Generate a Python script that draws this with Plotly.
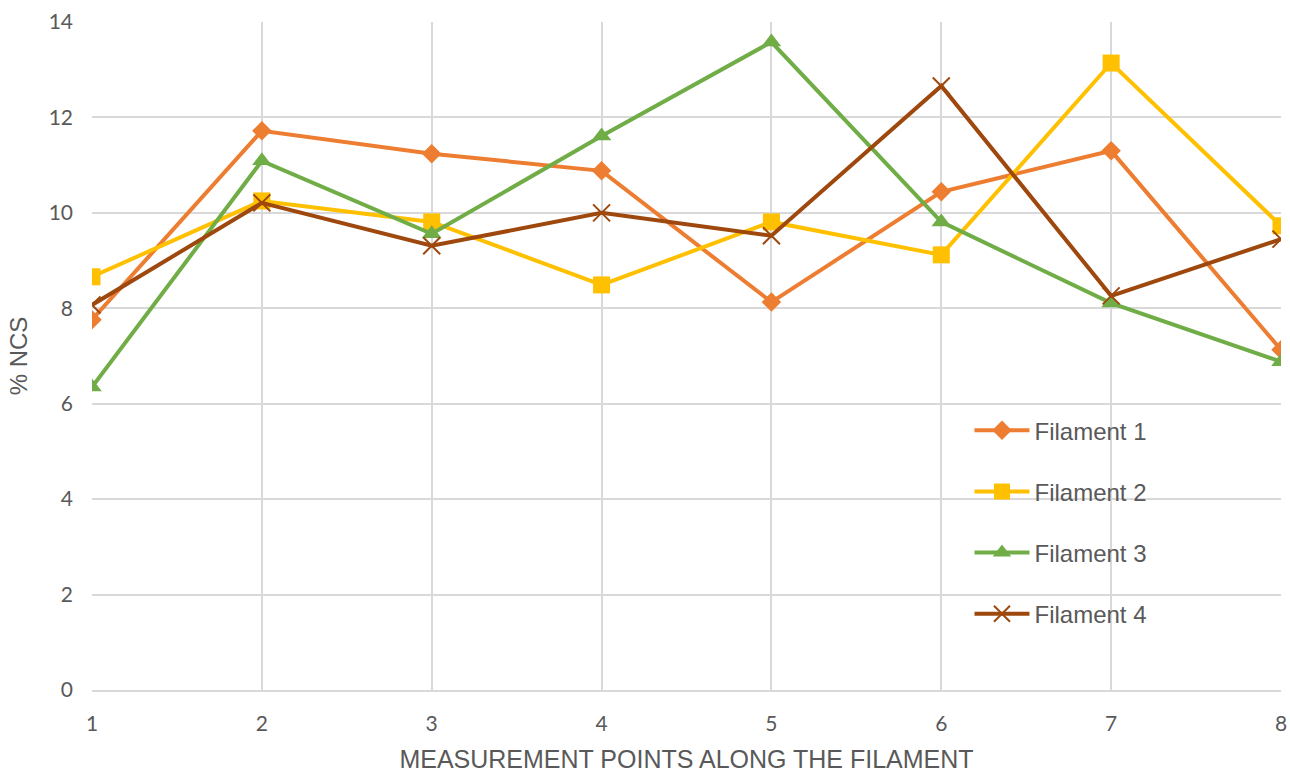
import plotly.graph_objects as go

points = [1, 2, 3, 4, 5, 6, 7, 8]
filament_1 = [7.76, 11.72, 11.24, 10.88, 8.13, 10.44, 11.30, 7.13]
filament_2 = [8.66, 10.25, 9.81, 8.49, 9.81, 9.12, 13.14, 9.73]
filament_3 = [6.35, 11.09, 9.56, 11.61, 13.58, 9.81, 8.11, 6.88]
filament_4 = [8.07, 10.21, 9.31, 10.00, 9.52, 12.66, 8.26, 9.45]

names = ["Filament 1", "Filament 2", "Filament 3", "Filament 4"]
series = [filament_1, filament_2, filament_3, filament_4]
colors = ["#ED7D31", "#FFC000", "#70AD47", "#9E480E"]
symbols = ["diamond", "square", "triangle-up", "x-thin"]
sizes = [15, 17, 17, 17]

fig = go.Figure()
for name, vals, col, sym, sz in zip(names, series, colors, symbols, sizes):
    marker = dict(symbol=sym, size=sz, color=col)
    if sym == "x-thin":
        marker["line"] = dict(color=col, width=2)
    fig.add_trace(go.Scatter(
        x=points, y=vals, name=name, mode="lines+markers",
        line=dict(color=col, width=4), marker=marker,
        legendgroup=name,
    ))

fig.update_layout(
    width=1290, height=773,
    margin=dict(l=92, r=9, t=22, b=83, autoexpand=False),
    paper_bgcolor="white", plot_bgcolor="white",
    font=dict(family="Liberation Sans, Arial, sans-serif", color="#595959", size=20),
    showlegend=True,
    legend=dict(
        x=0.738, xanchor="left", y=0.422, yanchor="top",
        font=dict(size=24, color="#595959"),
        tracegroupgap=27, itemwidth=55, bgcolor="rgba(0,0,0,0)",
    ),
)
fig.update_xaxes(
    range=[1, 8], tickvals=points, showgrid=True, gridcolor="#D9D9D9", gridwidth=1.5,
    zeroline=False, showline=True, linecolor="#D9D9D9", linewidth=1.5,
    ticks="", ticklabelstandoff=14, automargin=False,
    tickfont=dict(size=21, family="Lato, sans-serif", color="#595959"),
    title=dict(text="MEASUREMENT POINTS ALONG THE FILAMENT", standoff=37,
               font=dict(size=25, color="#595959")),
)
fig.update_yaxes(
    range=[0, 14], dtick=2, showgrid=True, gridcolor="#D9D9D9", gridwidth=1.5,
    zeroline=False, showline=False, ticks="", ticklabelstandoff=18, automargin=False,
    tickfont=dict(size=21, family="Lato, sans-serif", color="#595959"),
    title=dict(text="% NCS", standoff=14, font=dict(size=24, color="#595959")),
)

fig.write_html(
    "out.html",
    config={"displayModeBar": False},
    post_script="document.body.style.margin='0';document.body.style.overflow='hidden';",
)
